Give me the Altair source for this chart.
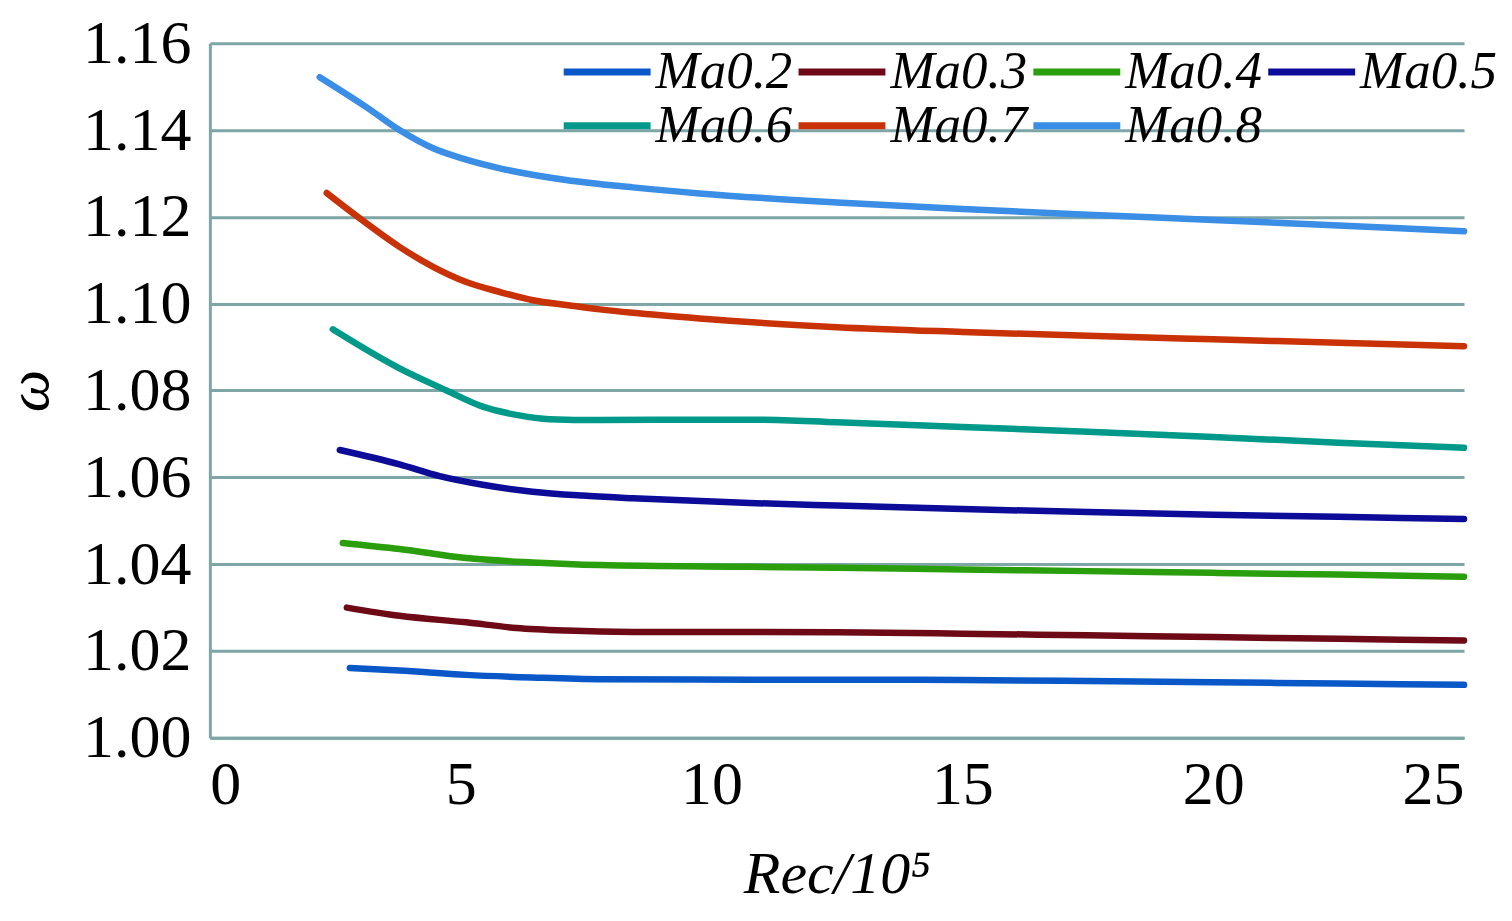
import altair as alt
import pandas as pd

series = ["Ma0.2", "Ma0.3", "Ma0.4", "Ma0.5", "Ma0.6", "Ma0.7", "Ma0.8"]
colors = ["#0a58c8", "#6e0a16", "#2a9e0c", "#0c0c98", "#00998a", "#c93206", "#3a8ee6"]

x_02 = [2.79, 3.78, 5.11, 6.43, 7.77, 10.76, 12.5, 15.0, 17.5, 20.0, 22.5, 25.0]
y_02 = [1.0161, 1.0155, 1.0145, 1.0139, 1.0135, 1.0134, 1.0134, 1.0133, 1.0131, 1.0128, 1.0125, 1.0122]

x_03 = [2.73, 3.78, 5.11, 6.11, 7.1, 8.43, 10.76, 12.5, 15.0, 17.5, 20.0, 22.5, 25.0]
y_03 = [1.0300, 1.0281, 1.0266, 1.0253, 1.0247, 1.0244, 1.0244, 1.0243, 1.0240, 1.0236, 1.0232, 1.0228, 1.0224]

x_04 = [2.65, 3.78, 5.11, 6.43, 7.77, 10.76, 12.5, 15.0, 17.5, 20.0, 22.5, 25.0]
y_04 = [1.0449, 1.0435, 1.0414, 1.0404, 1.0398, 1.0394, 1.0392, 1.0388, 1.0384, 1.0380, 1.0376, 1.0371]

x_05 = [2.59, 3.78, 4.58, 5.44, 6.43, 7.43, 8.43, 10.76, 12.5, 15.0, 17.5, 20.0, 22.5, 25.0]
y_05 = [1.0663, 1.0630, 1.0603, 1.0583, 1.0567, 1.0558, 1.0552, 1.0541, 1.0535, 1.0527, 1.0520, 1.0514, 1.0509, 1.0504]

x_06 = [2.45, 3.78, 4.72, 5.44, 6.11, 6.77, 7.77, 10.0, 11.0, 12.5, 15.0, 17.5, 20.0, 22.5, 25.0]
y_06 = [1.0941, 1.0851, 1.0800, 1.0763, 1.0744, 1.0734, 1.0732, 1.0733, 1.0733, 1.0727, 1.0716, 1.0705, 1.0693, 1.0680, 1.0668]

x_07 = [2.33, 2.95, 3.78, 4.45, 5.11, 5.78, 6.44, 7.1, 7.77, 8.43, 9.76, 12.5, 15.0, 17.5, 20.0, 22.5, 25.0]
y_07 = [1.1255, 1.1200, 1.1131, 1.1085, 1.1050, 1.1027, 1.1008, 1.0997, 1.0987, 1.0979, 1.0966, 1.0946, 1.0935, 1.0926, 1.0918, 1.0910, 1.0902]

x_08 = [2.19, 3.12, 3.78, 4.45, 5.11, 5.78, 7.1, 8.43, 9.76, 12.5, 15.0, 17.5, 20.0, 22.5, 25.0]
y_08 = [1.1522, 1.1453, 1.1400, 1.1358, 1.1332, 1.1312, 1.1285, 1.1268, 1.1254, 1.1233, 1.1218, 1.1205, 1.1193, 1.1180, 1.1167]

x_ticks = [0, 5, 10, 15, 20, 25]
y_ticks = [1.00, 1.02, 1.04, 1.06, 1.08, 1.10, 1.12, 1.14, 1.16]

all_x = [x_02, x_03, x_04, x_05, x_06, x_07, x_08]
all_y = [y_02, y_03, y_04, y_05, y_06, y_07, y_08]

rows = []
for name, xs, ys in zip(series, all_x, all_y):
    for xv, yv in zip(xs, ys):
        rows.append({"Re": xv, "omega": yv, "series": name})
df = pd.DataFrame(rows)

GRID = "#7fa6a6"
FONT = "Liberation Serif"

chart = (
    alt.Chart(df)
    .mark_line(strokeWidth=6.5, strokeCap="round", interpolate="monotone")
    .encode(
        x=alt.X(
            "Re:Q",
            scale=alt.Scale(domain=[0, 25], nice=False),
            axis=alt.Axis(
                values=x_ticks,
                format="d",
                grid=False,
                ticks=False,
                domain=True,
                domainColor=GRID,
                domainWidth=3,
                labelFont=FONT,
                labelFontSize=62,
                labelColor="black",
                labelPadding=17,
                title="Rec/10⁵",
                titleFont=FONT,
                titleFontSize=60,
                titleFontStyle="italic",
                titleFontWeight="normal",
                titleColor="black",
                titlePadding=30,
            ),
        ),
        y=alt.Y(
            "omega:Q",
            scale=alt.Scale(domain=[1.0, 1.16], nice=False, zero=False),
            axis=alt.Axis(
                values=y_ticks,
                format=".2f",
                grid=True,
                gridColor=GRID,
                gridWidth=3,
                ticks=False,
                domain=True,
                domainColor=GRID,
                domainWidth=3,
                labelFont=FONT,
                labelFontSize=62,
                labelColor="black",
                labelPadding=19,
                title="ω",
                titleFont=FONT,
                titleFontSize=60,
                titleFontStyle="italic",
                titleFontWeight="normal",
                titleColor="black",
                titlePadding=22,
            ),
        ),
        color=alt.Color(
            "series:N",
            scale=alt.Scale(domain=series, range=colors),
            legend=alt.Legend(
                title=None,
                orient="none",
                direction="horizontal",
                legendX=358,
                legendY=2,
                columns=4,
                symbolType="M-1.4,0H2.6",
                symbolSize=1890,
                symbolStrokeWidth=7,
                labelFont=FONT,
                labelFontSize=53,
                labelFontStyle="italic",
                labelColor="black",
                labelOffset=35,
                columnPadding=-8,
                rowPadding=0,
                labelLimit=400,
            ),
        ),
    )
    .properties(
        width=1255,
        height=695,
        background="white",
        autosize=alt.AutoSizeParams(type="none"),
        padding={"left": 202, "top": 35, "right": 40, "bottom": 170},
    )
    .configure_view(stroke="transparent")
)

chart.save("out.html", embed_options={"renderer": "svg", "actions": False})
